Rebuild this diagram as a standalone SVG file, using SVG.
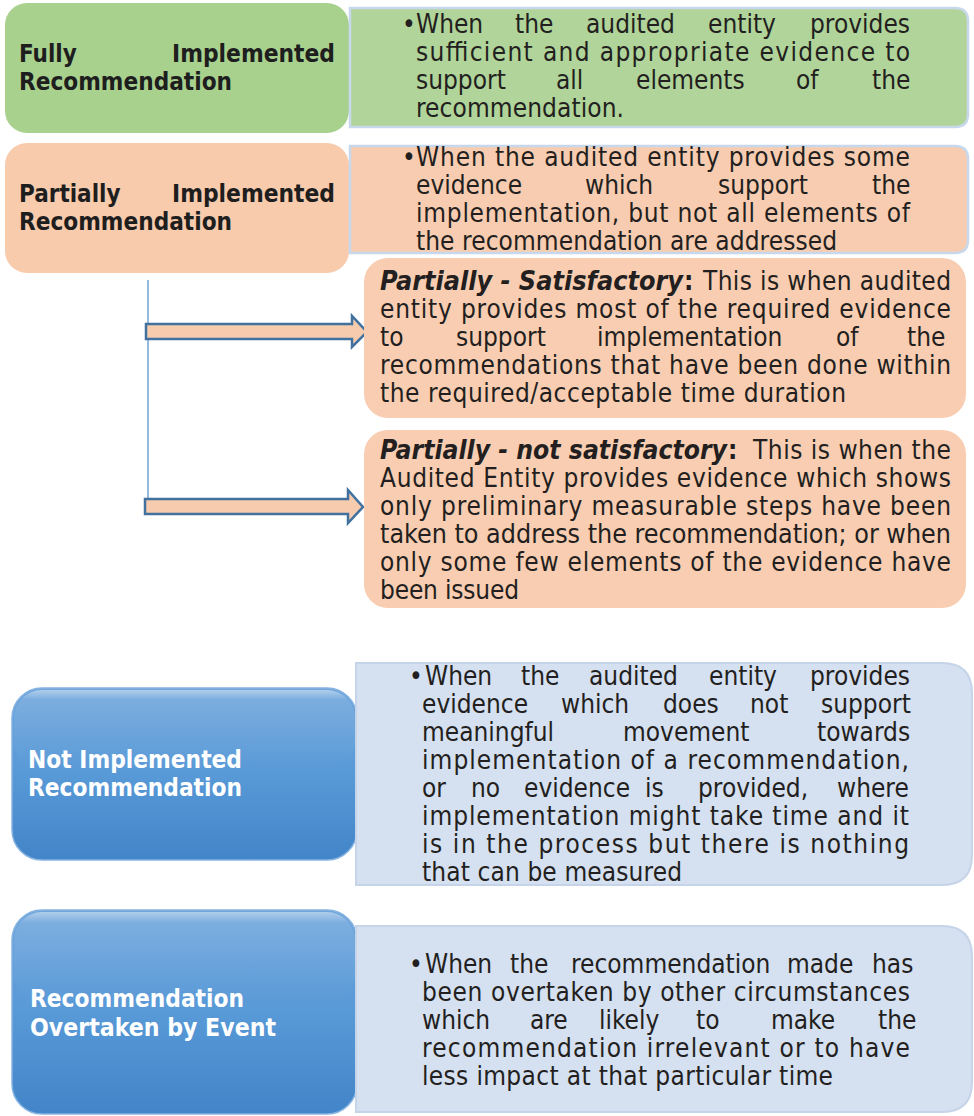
<svg xmlns="http://www.w3.org/2000/svg" width="974" height="1116" viewBox="0 0 974 1116">
<defs>
<linearGradient id="blueG" x1="0" y1="0" x2="0" y2="1">
<stop offset="0" stop-color="#70a6dc"/>
<stop offset="0.5" stop-color="#5899d7"/>
<stop offset="1" stop-color="#4285c8"/>
</linearGradient>
<linearGradient id="gloss" x1="0" y1="0" x2="0" y2="1">
<stop offset="0" stop-color="#ffffff" stop-opacity="0.45"/>
<stop offset="0.12" stop-color="#ffffff" stop-opacity="0.1"/>
<stop offset="1" stop-color="#ffffff" stop-opacity="0"/>
</linearGradient>
<style>
.t{font-family:"DejaVu Sans Condensed","DejaVu Sans",sans-serif;font-stretch:condensed;font-size:26px;fill:#231f20}
.lb{font-family:"DejaVu Sans Condensed","DejaVu Sans",sans-serif;font-stretch:condensed;font-size:24px;font-weight:bold;fill:#1e1e1e}
.lw{font-family:"DejaVu Sans Condensed","DejaVu Sans",sans-serif;font-stretch:condensed;font-size:24px;font-weight:bold;fill:#ffffff}
.bi{font-weight:bold;font-style:italic}
.bo{font-weight:bold}
.desc{stroke:#c8d8ec;stroke-width:2.5}
.arrow{fill:#f7cbad;stroke:#41719f;stroke-width:2.5;stroke-linejoin:miter}
</style>
</defs>
<rect width="974" height="1116" fill="#ffffff"/>

<g id="connectors">
<line x1="148" y1="280" x2="148" y2="500" stroke="#7ea9d9" stroke-width="1.6"/>
<path class="arrow" d="M146,324 H352 V316 L367,332 L352,347 V339 H146 Z"/>
<path class="arrow" d="M145,499 H348 V490 L363,507 L348,523 V514 H145 Z"/>
</g>

<g id="fully-label">
<rect x="5" y="3" width="344" height="130" rx="22" fill="#a9d18e"/>
<text class="lb" x="19" y="62">Fully</text>
<text class="lb" x="172" y="62" textLength="163" lengthAdjust="spacingAndGlyphs">Implemented</text>
<text class="lb" x="19" y="90" textLength="213" lengthAdjust="spacingAndGlyphs">Recommendation</text>
</g>

<g id="fully-desc">
<path class="desc" d="M350,8 H955 Q968,8 968,21 V114 Q968,127 955,127 H350 Z" fill="#b0d499"/>
<text class="t" y="33"><tspan x="402">•</tspan><tspan x="416">When</tspan><tspan x="515">the</tspan><tspan x="586">audited</tspan><tspan x="708">entity</tspan><tspan x="810">provides</tspan></text>
<text class="t" x="416" y="61" textLength="494" lengthAdjust="spacing">sufficient and appropriate evidence to</text>
<text class="t" y="89"><tspan x="416">support</tspan><tspan x="556">all</tspan><tspan x="636">elements</tspan><tspan x="796">of</tspan><tspan x="872">the</tspan></text>
<text class="t" x="416" y="117" textLength="208" lengthAdjust="spacing">recommendation.</text>
</g>

<g id="partial-label">
<rect x="5" y="143" width="344" height="130" rx="22" fill="#f8cbad"/>
<text class="lb" x="19" y="202">Partially</text>
<text class="lb" x="172" y="202" textLength="163" lengthAdjust="spacingAndGlyphs">Implemented</text>
<text class="lb" x="19" y="230" textLength="213" lengthAdjust="spacingAndGlyphs">Recommendation</text>
</g>

<g id="partial-desc">
<path class="desc" d="M350,146 H955 Q968,146 968,159 V240 Q968,253 955,253 H350 Z" fill="#f7ccb0"/>
<text class="t" x="402" y="166">•</text>
<text class="t" x="416" y="166" textLength="494" lengthAdjust="spacing">When the audited entity provides some</text>
<text class="t" y="194"><tspan x="416">evidence</tspan><tspan x="585">which</tspan><tspan x="718">support</tspan><tspan x="872">the</tspan></text>
<text class="t" x="416" y="222" textLength="494" lengthAdjust="spacing">implementation, but not all elements of</text>
<text class="t" x="416" y="250" textLength="421" lengthAdjust="spacing">the recommendation are addressed</text>
</g>

<g id="partial-satisfactory">
<rect x="364" y="258" width="602" height="160" rx="24" fill="#f8cdb1"/>
<text class="t bi" x="380" y="290" textLength="303" lengthAdjust="spacingAndGlyphs">Partially - Satisfactory</text>
<text class="t bo" x="684" y="290">:</text>
<text class="t" x="703" y="290" textLength="248" lengthAdjust="spacing">This is when audited</text>
<text class="t" x="380" y="318" textLength="571" lengthAdjust="spacing">entity provides most of the required evidence</text>
<text class="t" y="346"><tspan x="380">to</tspan><tspan x="456">support</tspan><tspan x="597">implementation</tspan><tspan x="836">of</tspan><tspan x="907">the</tspan></text>
<text class="t" x="380" y="374" textLength="571" lengthAdjust="spacing">recommendations that have been done within</text>
<text class="t" x="380" y="402" textLength="466" lengthAdjust="spacing">the required/acceptable time duration</text>
</g>

<g id="partial-not-satisfactory">
<rect x="364" y="430" width="602" height="178" rx="24" fill="#f8cdb1"/>
<text class="t bi" x="380" y="459" textLength="347" lengthAdjust="spacingAndGlyphs">Partially - not satisfactory</text>
<text class="t bo" x="728" y="459">:</text>
<text class="t" x="753" y="459" textLength="198" lengthAdjust="spacing">This is when the</text>
<text class="t" x="380" y="487" textLength="571" lengthAdjust="spacing">Audited Entity provides evidence which shows</text>
<text class="t" x="380" y="515" textLength="571" lengthAdjust="spacing">only preliminary measurable steps have been</text>
<text class="t" x="380" y="543" textLength="571" lengthAdjust="spacingAndGlyphs">taken to address the recommendation; or when</text>
<text class="t" x="380" y="571" textLength="571" lengthAdjust="spacing">only some few elements of the evidence have</text>
<text class="t" x="380" y="599" textLength="139" lengthAdjust="spacing">been issued</text>
</g>

<g id="not-implemented-label">
<rect x="12" y="688" width="345" height="172" rx="30" fill="url(#blueG)" stroke="#86b3e2" stroke-width="1.5"/>
<rect x="14" y="690" width="341" height="80" rx="28" fill="url(#gloss)"/>
<text class="lw" x="28" y="768" textLength="214" lengthAdjust="spacingAndGlyphs">Not Implemented</text>
<text class="lw" x="28" y="796" textLength="214" lengthAdjust="spacingAndGlyphs">Recommendation</text>
</g>

<g id="not-implemented-desc">
<path d="M356,663 H942 Q972,663 972,693 V855 Q972,885 942,885 H356 Z" fill="#d5e0f0" stroke="#c5d4e8" stroke-width="2"/>
<text class="t" y="685"><tspan x="409">•</tspan><tspan x="425">When</tspan><tspan x="521">the</tspan><tspan x="589">audited</tspan><tspan x="709">entity</tspan><tspan x="810">provides</tspan></text>
<text class="t" y="713"><tspan x="422">evidence</tspan><tspan x="561">which</tspan><tspan x="663">does</tspan><tspan x="750">not</tspan><tspan x="821">support</tspan></text>
<text class="t" y="741"><tspan x="422">meaningful</tspan><tspan x="623">movement</tspan><tspan x="817">towards</tspan></text>
<text class="t" x="422" y="769" textLength="487" lengthAdjust="spacing">implementation of a recommendation,</text>
<text class="t" y="797"><tspan x="422">or</tspan><tspan x="471">no</tspan><tspan x="524">evidence</tspan><tspan x="645">is</tspan><tspan x="698">provided,</tspan><tspan x="837">where</tspan></text>
<text class="t" x="422" y="825" textLength="487" lengthAdjust="spacing">implementation might take time and it</text>
<text class="t" x="422" y="853" textLength="487" lengthAdjust="spacing">is in the process but there is nothing</text>
<text class="t" x="422" y="881" textLength="260" lengthAdjust="spacing">that can be measured</text>
</g>

<g id="overtaken-label">
<rect x="12" y="910" width="345" height="204" rx="30" fill="url(#blueG)" stroke="#86b3e2" stroke-width="1.5"/>
<rect x="14" y="912" width="341" height="90" rx="28" fill="url(#gloss)"/>
<text class="lw" x="30" y="1007" textLength="214" lengthAdjust="spacingAndGlyphs">Recommendation</text>
<text class="lw" x="30" y="1036" textLength="246" lengthAdjust="spacingAndGlyphs">Overtaken by Event</text>
</g>

<g id="overtaken-desc">
<path d="M356,926 H942 Q972,926 972,956 V1082 Q972,1112 942,1112 H356 Z" fill="#d5e0f0" stroke="#c5d4e8" stroke-width="2"/>
<text class="t" y="973"><tspan x="409">•</tspan><tspan x="425">When</tspan><tspan x="510">the</tspan><tspan x="571">recommendation</tspan><tspan x="787">made</tspan><tspan x="872">has</tspan></text>
<text class="t" x="422" y="1001" textLength="488" lengthAdjust="spacing">been overtaken by other circumstances</text>
<text class="t" y="1029"><tspan x="422">which</tspan><tspan x="530">are</tspan><tspan x="599">likely</tspan><tspan x="696">to</tspan><tspan x="771">make</tspan><tspan x="878">the</tspan></text>
<text class="t" x="422" y="1057" textLength="488" lengthAdjust="spacing">recommendation irrelevant or to have</text>
<text class="t" x="422" y="1085" textLength="411" lengthAdjust="spacing">less impact at that particular time</text>
</g>
</svg>
